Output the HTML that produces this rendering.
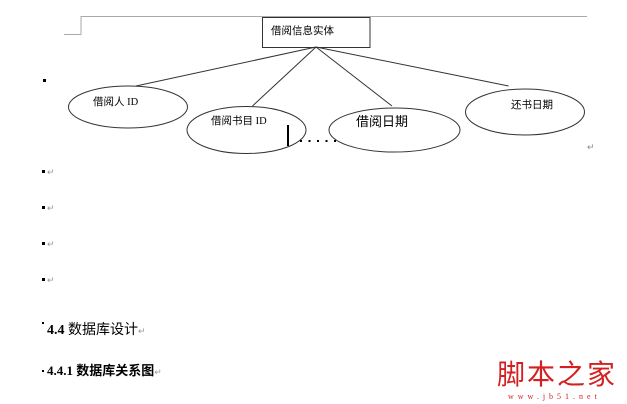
<!DOCTYPE html>
<html><head><meta charset="utf-8"><style>
html,body{margin:0;padding:0;background:#fff;width:627px;height:404px;overflow:hidden}
svg{display:block}
text{font-family:"Liberation Serif","Noto Sans CJK SC",sans-serif}
</style></head><body>
<svg width="627" height="404" viewBox="0 0 627 404" xmlns="http://www.w3.org/2000/svg">
<g stroke="#aaa" stroke-width="1" fill="none">
<line x1="81" y1="16.5" x2="587" y2="16.5"/>
<polyline points="81,16 81,34.5 64,34.5"/>
</g>
<g stroke="#333" stroke-width="1" fill="none">
<rect x="262.5" y="17.5" width="107.5" height="30"/>
<line x1="316" y1="47" x2="136" y2="86"/>
<line x1="316" y1="47" x2="252.5" y2="106"/>
<line x1="316" y1="47" x2="392" y2="106"/>
<line x1="316" y1="47" x2="508.6" y2="86"/>
<ellipse cx="128" cy="107" rx="59.5" ry="21"/>
<ellipse cx="246.5" cy="130" rx="59.5" ry="23.5"/>
<ellipse cx="394.5" cy="130" rx="65.5" ry="22"/>
<ellipse cx="525" cy="112" rx="59.5" ry="23"/>
</g>
<line x1="288" y1="125" x2="288" y2="146" stroke="#000" stroke-width="2"/>
<g fill="#000"><rect x="300" y="140" width="2" height="2"/><rect x="308.5" y="140" width="2" height="2"/><rect x="317" y="140" width="2" height="2"/><rect x="325.5" y="140" width="2" height="2"/><rect x="334" y="140" width="2" height="2"/></g>
<g font-size="10.5" fill="#000">
<text x="271" y="34">借阅信息实体</text>
<text x="93" y="105">借阅人 ID</text>
<text x="211" y="124">借阅书目 ID</text>
<text x="356" y="126" font-size="13">借阅日期</text>
<text x="511" y="108">还书日期</text>
</g>
<rect x="43" y="79" width="3" height="3" fill="#000"/>
<text x="587" y="150" font-size="9" fill="#888">↵</text>
<g fill="#000">
<rect x="42" y="170" width="3" height="3"/><rect x="42" y="206" width="3" height="3"/><rect x="42" y="242" width="3" height="3"/><rect x="42" y="278" width="3" height="3"/>
<rect x="42" y="322" width="2" height="2"/><rect x="42" y="370" width="2" height="2"/>
</g>
<g font-size="9" fill="#999">
<text x="47" y="175">↵</text><text x="47" y="211">↵</text><text x="47" y="247">↵</text><text x="47" y="283">↵</text>
</g>
<text x="47" y="334" font-size="14" fill="#000"><tspan font-weight="bold">4.4</tspan> <tspan font-family="Noto Sans CJK SC">数据库设计</tspan><tspan font-size="9" fill="#999">↵</tspan></text>
<text x="47" y="375" font-size="13" font-weight="bold" fill="#000">4.4.1 <tspan font-family="Noto Sans CJK SC">数据库关系图</tspan><tspan font-size="9" fill="#999" font-weight="normal">↵</tspan></text>
<text x="497" y="384" font-size="28" fill="#d42020" font-family="Noto Serif CJK SC,serif" letter-spacing="2">脚本之家</text>
<text x="508" y="399" font-size="8" fill="#d42020" font-family="Liberation Mono,monospace" letter-spacing="4">www.jb51.net</text>
</svg>
</body></html>
